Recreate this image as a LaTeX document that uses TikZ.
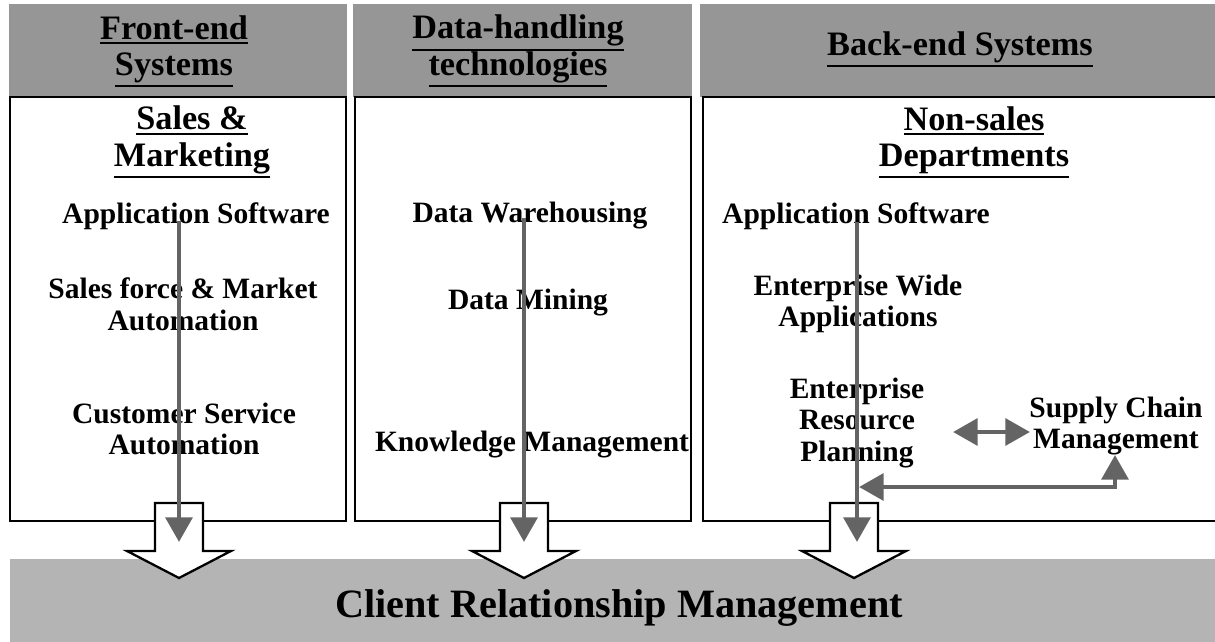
\documentclass[tikz,border=0pt]{standalone}
\usepackage{fontspec}
\setmainfont{Liberation Serif}
\usetikzlibrary{arrows.meta}
\definecolor{hdrgray}{RGB}{150,150,150}
\definecolor{crmgray}{RGB}{180,180,180}
\definecolor{arrgray}{RGB}{100,100,100}
\newcommand\hdfont{\fontsize{19.5}{20.5}\selectfont\bfseries\lineskiplimit=-50pt}
\newcommand\itfont{\fontsize{16.8}{18}\selectfont\bfseries}
\newcommand\crmfont{\fontsize{22.9}{24}\selectfont\bfseries}
\newcommand\hd[1]{\leavevmode\vtop{\hbox{#1}\kern1.3pt\hrule height1.1pt}}
\tikzset{
	panel/.style={draw=black,line width=1.6pt,fill=white},
	head/.style={font=\hdfont,align=center,inner sep=0pt},
	item/.style={font=\itfont,align=center,inner sep=0pt},
	flow/.style={draw=arrgray,line width=2.8pt,-{Triangle[length=14pt,width=15pt]}},
	bigarrow/.style={draw=black,line width=1.3pt,fill=white,line join=miter},
}
\begin{document}
\begin{tikzpicture}[x=0.02cm,y=-0.02cm]
	\useasboundingbox (0,0) rectangle (1215,642);
	%header strips, panels and bottom bar
	\fill[hdrgray] (9,4) rectangle (347,97); \fill[hdrgray] (353,4) rectangle (692,97); \fill[hdrgray] (700,4) rectangle (1220,97);
	\draw[panel] (10,97) rectangle (346,521); \draw[panel] (355,97) rectangle (691,521); \draw[panel] (703,97) rectangle (1222,521);
	\fill[crmgray] (10,559) rectangle (1220,645);
	
	\node[head] (hF) at (174,51) {\hd{Front-end}\\\hd{Systems}};
	\node[head] (hD) at (518,51) {\hd{Data-handling}\\\hd{technologies}};
	\node[head] (hB) at (960,49) {\hd{Back-end Systems}};
	\node[head] (sm) at (192,142) {\hd{Sales \&}\\\hd{Marketing}};
	\node[head] (ns) at (974,142) {\hd{Non-sales}\\\hd{Departments}};
	
	\node[item] (appF) at (196,216) {Application Software};
	\node[item] (sfa) at (183,304) {Sales force \& Market\\Automation};
	\node[item] (csa) at (184,429) {Customer Service\\Automation};
	\node[item] (dw) at (530,216) {Data Warehousing};
	\node[item] (dm) at (528,303) {Data Mining};
	\node[item] (km) at (532,445) {Knowledge Management};
	\node[item] (appB) at (856,216) {Application Software};
	\node[item] (ewa) at (858,304) {Enterprise Wide\\Applications};
	\node[item] (erp) at (857,423) {Enterprise\\Resource\\Planning};
	\node[item] (scm) at (1116,426) {Supply Chain\\Management};
	
	\node[font=\crmfont,inner sep=0pt] (crm) at (619,608) {Client Relationship Management};
	
	%hollow arrows into the bottom bar
	\foreach \x in {179,524,854} \draw[bigarrow] (\x-24,503) -- (\x+24,503) -- (\x+24,551) -- (\x+52,551) -- (\x,578) -- (\x-52,551) -- (\x-24,551) -- cycle;
	
	\coordinate (fa) at (179,221); \coordinate (fb) at (179,542);
	\coordinate (da) at (524,218); \coordinate (db) at (524,542);
	\coordinate (ba) at (857,222); \coordinate (bb) at (857,542);
	\draw[flow] (fa) -- (fb); \draw[flow] (da) -- (db); \draw[flow] (ba) -- (bb);
	
	\coordinate (x1) at (953,432); \coordinate (x2) at (1030,432);
	\draw[flow,{Triangle[length=14pt,width=15pt]}-{Triangle[length=14pt,width=15pt]}] (x1) -- (x2);
	\coordinate (y1) at (859,487); \coordinate (y2) at (1115,455);
	\draw[flow,{Triangle[length=14pt,width=15pt]}-{Triangle[length=14pt,width=15pt]}] (y1) -| (y2);
\end{tikzpicture}
\end{document}
